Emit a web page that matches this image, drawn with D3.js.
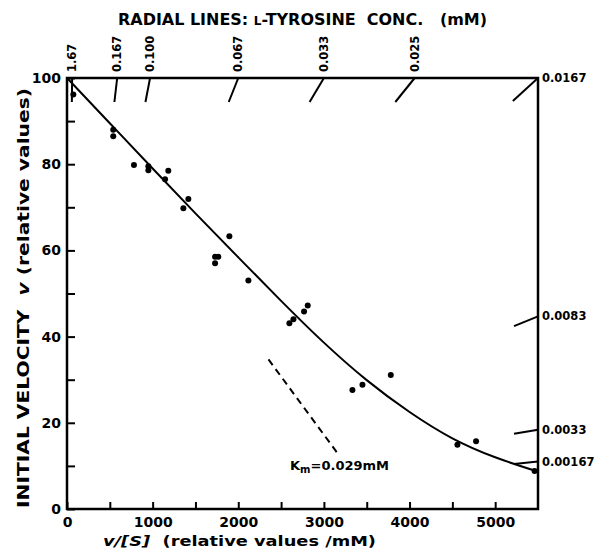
<!DOCTYPE html>
<html>
<head>
<meta charset="utf-8">
<script src="https://cdn.jsdelivr.net/npm/d3@7"></script>
<style>
  html, body { margin: 0; padding: 0; background: #fff; }
  svg { display: block; }
  text { font-family: "DejaVu Sans", sans-serif; font-weight: bold; fill: #000; white-space: pre; }
</style>
</head>
<body>
<svg id="chart" width="601" height="554"></svg>
<script>
// ---- data ----
const pointsX = [74, 540, 540, 782, 950, 950, 1145, 1183, 1359, 1417, 1729, 1729, 1767, 1896, 2118, 2597, 2644, 2768, 2811, 3333, 3450, 3781, 4559, 4777, 5460];
const pointsY = [96.2, 88.0, 86.5, 79.8, 79.5, 78.6, 76.5, 78.5, 69.8, 71.9, 58.5, 57.0, 58.5, 63.3, 53.0, 43.1, 44.0, 45.8, 47.2, 27.6, 28.8, 31.1, 14.9, 15.7, 8.8];

const curveX = [0, 500, 1000, 1500, 2000, 2500, 3000, 3500, 4000, 4500, 5000, 5480];
const curveY = [100, 89.5, 79.0, 68.6, 58.4, 48.3, 38.6, 29.9, 22.5, 16.4, 12.0, 8.8];

const kmLineX = [2353, 3168];
const kmLineY = [34.7, 12.7];

const radialTopLabels = ["1.67", "0.167", "0.100", "0.067", "0.033", "0.025"];
const radialTopX = [60, 586, 970, 2000, 3000, 4060];
const radialRightLabels = ["0.0167", "0.0083", "0.0033", "0.00167"];
const radialRightY = [100, 44.7, 18.4, 11.0];

const xTickValues = [0, 500, 1000, 1500, 2000, 2500, 3000, 3500, 4000, 4500, 5000];
const xTickLabels = ["0", "", "1000", "", "2000", "", "3000", "", "4000", "", "5000"];
const yTickValues = [0, 10, 20, 30, 40, 50, 60, 70, 80, 90, 100];
const yTickLabels = ["0", "", "20", "", "40", "", "60", "", "80", "", "100"];

// ---- drawing ----
const svg = d3.select("#chart");
const x = d3.scaleLinear().domain([0, 5500]).range([67, 538]);
const y = d3.scaleLinear().domain([0, 100]).range([509, 78]);

// axes
const xAxis = d3.axisBottom(x).tickValues(xTickValues)
  .tickFormat((d, i) => xTickLabels[i]).tickSizeInner(-7).tickSizeOuter(0).tickPadding(8);
const gx = svg.append("g").attr("transform", `translate(0,${y(0)})`).call(xAxis);
gx.select(".domain").remove();
gx.selectAll("line").attr("stroke", "#000").attr("stroke-width", 2);
gx.selectAll("text").attr("font-size", 14).attr("font-family", "DejaVu Sans").attr("font-weight", "bold");

const yAxis = d3.axisLeft(y).tickValues(yTickValues)
  .tickFormat((d, i) => yTickLabels[i]).tickSizeInner(-8).tickSizeOuter(0).tickPadding(6);
const gy = svg.append("g").attr("transform", `translate(${x(0)},0)`).call(yAxis);
gy.select(".domain").remove();
gy.selectAll("line").attr("stroke", "#000").attr("stroke-width", 2);
gy.selectAll("text").attr("font-size", 14).attr("font-family", "DejaVu Sans").attr("font-weight", "bold");

// frame
svg.append("rect")
  .attr("x", x(0)).attr("y", y(100))
  .attr("width", x(5500) - x(0)).attr("height", y(0) - y(100))
  .attr("fill", "none").attr("stroke", "#000").attr("stroke-width", 2.5);

// radial line segments toward origin
const ox = x(0), oy = y(0);
function segTop(px, py, dy) {
  const vx = ox - px, vy = oy - py;
  const t = dy / vy;
  return [px, py, px + vx * t, py + vy * t];
}
function segRight(px, py, dx) {
  const vx = ox - px, vy = oy - py;
  const t = dx / -vx;
  return [px, py, px + vx * t, py + vy * t];
}
radialTopX.forEach((v, i) => {
  const s = segTop(x(v), y(100), 24);
  svg.append("line").attr("x1", s[0]).attr("y1", s[1]).attr("x2", s[2]).attr("y2", s[3])
    .attr("stroke", "#000").attr("stroke-width", 2);
  svg.append("text")
    .attr("transform", `translate(${x(v) + 4},${y(100) - 6}) rotate(-90)`)
    .attr("font-size", 11.5).attr("text-anchor", "start")
    .text(radialTopLabels[i]);
});
radialRightY.forEach((v, i) => {
  const s = (v === 100) ? segTop(x(5500), y(v), 23) : segRight(x(5500), y(v), 24);
  svg.append("line").attr("x1", s[0]).attr("y1", s[1]).attr("x2", s[2]).attr("y2", s[3])
    .attr("stroke", "#000").attr("stroke-width", 2);
  svg.append("text")
    .attr("x", x(5500) + 4).attr("y", y(v)).attr("dy", "0.35em")
    .attr("font-size", 11.5)
    .text(radialRightLabels[i]);
});

// fitted curve
const curvePts = curveX.map((d, i) => [d, curveY[i]]);
svg.append("path")
  .attr("d", d3.line().x(d => x(d[0])).y(d => y(d[1])).curve(d3.curveNatural)(curvePts))
  .attr("fill", "none").attr("stroke", "#000").attr("stroke-width", 2);

// Km dashed line
svg.append("line")
  .attr("x1", x(kmLineX[0])).attr("y1", y(kmLineY[0]))
  .attr("x2", x(kmLineX[1])).attr("y2", y(kmLineY[1]))
  .attr("stroke", "#000").attr("stroke-width", 2).attr("stroke-dasharray", "7,5");

// points
svg.append("g").selectAll("circle")
  .data(pointsX.map((d, i) => [d, pointsY[i]]))
  .join("circle")
  .attr("cx", d => x(d[0])).attr("cy", d => y(d[1])).attr("r", 3).attr("fill", "#000");

// Km label
const km = svg.append("text").attr("x", 290).attr("y", 470).attr("font-size", 13);
km.append("tspan").text("K");
km.append("tspan").attr("font-size", 10).attr("dy", 3).text("m");
km.append("tspan").attr("dy", -3).text("=0.029mM");

// title
const title = svg.append("text").attr("x", 118).attr("y", 25).attr("font-size", 16)
  .attr("textLength", 369).attr("lengthAdjust", "spacingAndGlyphs");
title.append("tspan").text("RADIAL LINES: ");
title.append("tspan").attr("font-size", 12).text("L");
title.append("tspan").text("-TYROSINE  CONC.   (mM)");

// y axis title
const yt = svg.append("text")
  .attr("transform", "translate(29,508) rotate(-90)")
  .attr("font-size", 15).attr("textLength", 420).attr("lengthAdjust", "spacingAndGlyphs");
yt.append("tspan").text("INITIAL VELOCITY  ");
yt.append("tspan").attr("font-style", "italic").text("v");
yt.append("tspan").text(" (relative values)");

// x axis title
const xt = svg.append("text").attr("x", 103).attr("y", 546).attr("font-size", 14)
  .attr("textLength", 273).attr("lengthAdjust", "spacingAndGlyphs");
xt.append("tspan").attr("font-style", "italic").text("v/[S]");
xt.append("tspan").text("  (relative values /mM)");
</script>
</body>
</html>
